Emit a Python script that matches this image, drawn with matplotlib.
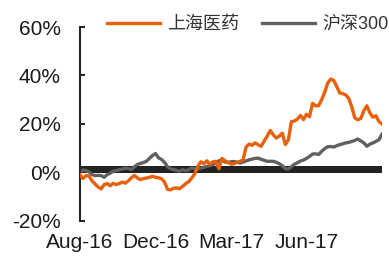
import matplotlib
matplotlib.use("Agg")
import matplotlib.pyplot as plt

# 数据（从图中估读，单位 %）
x_labels = ["Aug-16", "Dec-16", "Mar-17", "Jun-17"]
label_pos = [0, 25, 50, 75]

shyy = [-0.9, -2.5, -1.3, -1.5, -3.5, -4.8, -6.0, -6.8, -5.0, -4.6,
        -5.5, -4.5, -5.0, -4.6, -4.0, -4.4, -3.5, -2.2, -1.2, -2.3,
        -3.0, -2.5, -2.3, -2.0, -1.6, -2.0, -2.2, -2.6, -4.0, -7.0,
        -7.2, -6.5, -6.4, -6.7, -5.7, -4.6, -3.8, -2.3, -0.5, 2.5,
        4.4, 3.6, 4.8, 3.4, 4.4, 4.6, 1.5, 5.8, 4.8, 4.2,
        3.4, 3.6, 4.2, 4.6, 5.2, 10.5, 11.7, 11.2, 12.2, 11.4,
        10.8, 13.0, 15.0, 17.3, 15.5, 14.2, 15.0, 16.2, 11.5, 13.5,
        21.0, 21.2, 22.0, 23.5, 21.8, 24.0, 23.0, 28.5, 27.5, 27.5,
        30.0, 33.0, 36.8, 38.5, 38.0, 35.5, 32.8, 32.5, 32.0, 30.5,
        27.0, 22.5, 21.7, 22.3, 25.5, 27.5, 24.6, 22.8, 23.4, 21.0,
        20.0]

hs300 = [0.5, 1.0, 0.8, 0.2, -0.9, -1.3, -1.2, -1.3, -2.0, -0.9,
         -0.3, 0.5, 0.8, 1.1, 1.4, 1.8, 1.6, 1.2, 2.3, 3.3,
         3.7, 4.1, 4.6, 5.8, 7.0, 7.8, 6.0, 5.4, 4.1, 2.3,
         1.5, 1.2, 0.8, 0.5, 1.1, 0.7, 1.1, 1.9, 1.5, 1.4,
         1.8, 2.1, 2.5, 2.8, 3.2, 4.0, 4.8, 5.2, 4.3, 4.1,
         4.4, 4.5, 4.2, 3.9, 4.3, 4.8, 5.2, 5.5, 5.8, 5.9,
         5.4, 5.0, 4.6, 4.6, 4.6, 4.2, 3.6, 2.8, 1.6, 1.4,
         2.4, 3.4, 4.0, 4.7, 5.1, 5.8, 6.6, 7.6, 7.7, 7.4,
         8.7, 9.8, 10.6, 10.7, 10.5, 11.0, 11.5, 11.8, 12.2, 12.4,
         12.8, 13.2, 13.8, 13.0, 12.2, 10.8, 11.7, 12.2, 12.8, 13.5,
         15.8]

band_low, band_high = -0.3, 2.8
yticks = [-20, 0, 20, 40, 60]

x = list(range(len(shyy)))

fig = plt.figure(figsize=(3.89, 2.56), dpi=100)
ax = fig.add_axes([0.2057, 0.137, 0.7763, 0.7575])

# 0 轴附近的黑色粗带
ax.fill_between(x, band_low, band_high, color="#222222", linewidth=0, zorder=1)
l1, = ax.plot(x, shyy, color="#E8600A", linewidth=2.4, zorder=3, label="上海医药")
l2, = ax.plot(x, hs300, color="#606060", linewidth=2.4, zorder=2, label="沪深300")

ax.set_xlim(0, len(x) - 1)
ax.set_ylim(-20, 60)
ax.set_yticks(yticks)
ax.set_yticklabels([f"{v}%" for v in yticks])
ax.set_xticks(label_pos)
ax.set_xticklabels(x_labels)

for s in ["top", "right", "bottom"]:
    ax.spines[s].set_visible(False)
ax.spines["left"].set_linewidth(1.5)
ax.spines["left"].set_color("#262626")

ax.tick_params(axis="y", direction="in", length=3.6, width=1.5, color="#262626",
               pad=14, labelsize=15, labelcolor="#1a1a1a")
ax.tick_params(axis="x", length=0, pad=9, labelsize=15, labelcolor="#1a1a1a")
for t in ax.get_xticklabels() + ax.get_yticklabels():
    t.set_family("Liberation Sans")

leg = fig.legend(handles=[l1, l2], loc="center", bbox_to_anchor=(0.637, 0.905),
                 ncol=2, frameon=False, borderpad=0, handlelength=2.9,
                 handletextpad=0.4, columnspacing=1.3,
                 prop={"family": ["Liberation Sans", "Noto Sans CJK SC"], "size": 13})
for t in leg.get_texts():
    t.set_color("#333333")

fig.savefig("out.png", dpi=100)
